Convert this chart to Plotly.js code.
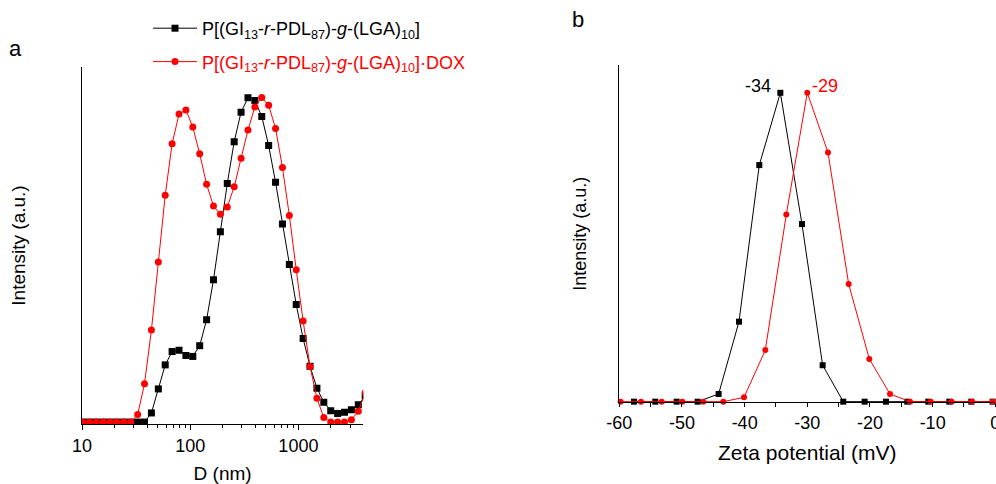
<!DOCTYPE html>
<html>
<head>
<meta charset="utf-8">
<script src="https://cdn.plot.ly/plotly-3.0.1.min.js"></script>
<style>html,body{margin:0;padding:0;background:#fff;}#chart{width:996px;height:484px;}</style>
</head>
<body>
<div id="chart"></div>
<script>
// ---- Panel a: DLS size distribution ----
const sizeNm = [10.1, 11.7, 13.54, 15.69, 18.17, 21.04, 24.36, 28.21, 32.67, 37.84, 43.82, 50.75, 58.77, 68.06, 78.82, 91.28, 105.7, 122.4, 141.8, 164.2, 190.1, 220.2, 255.0, 295.3, 342.0, 396.1, 458.7, 531.2, 615.1, 712.4, 825.0, 955.4, 1106, 1281, 1484, 1718, 1990, 2305, 2669, 3091, 3580, 4145];
const intensityPolymer = [0, 0, 0, 0, 0, 0, 0, 0, 0, 0, 2.8, 10.2, 17.6, 21.7, 22.1, 20.5, 20.2, 23.5, 31.5, 43.8, 58.6, 73.4, 86.3, 95.4, 99.8, 99.0, 94.1, 85.1, 73.8, 61.0, 48.5, 36.2, 25.7, 17.2, 10.4, 6.1, 3.5, 2.6, 3.0, 3.8, 5.3, 8.0];
const intensityDox = [0, 0, 0, 0, 0, 0, 0, 0, 2.3, 11.8, 28.3, 49.3, 69.8, 85.7, 94.8, 96.1, 90.8, 82.6, 73.2, 66.5, 64.0, 66.2, 72.4, 81.2, 89.9, 97.0, 99.9, 97.5, 90.4, 78.4, 63.6, 46.9, 31.1, 17.1, 7.3, 1.4, 0, 0, 0, 0.7, 3.3, 9.0];

// ---- Panel b: zeta potential distribution ----
const zetaPolymerMv = [-57.66, -54.26, -50.85, -47.5, -44.15, -40.9, -37.66, -34.3, -30.85, -27.55, -24.26, -20.85, -17.45, -14.04, -10.7, -7.34, -3.83, -0.43];
const zetaPolymerInt = [0, 0, 0, 0, 2.5, 25.9, 76.6, 100, 57.5, 11.8, 0, 0, 0, 0, 0, 0, 0, 0];
const zetaDoxMv = [-59.79, -56.54, -53.24, -49.95, -46.6, -43.4, -40.1, -36.7, -33.35, -30.0, -26.7, -23.4, -20.1, -16.8, -13.6, -10.3, -6.97, -3.72, -0.43];
const zetaDoxInt = [0, 0, 0, 0, 0, 0, 1.4, 16.7, 60.6, 100, 80.7, 38.1, 13.8, 2.5, 0, 0, 0, 0, 0];

// ---- Text ----
const legendNames = [
  "P[(GI<sub>13</sub>-<i>r</i>-PDL<sub>87</sub>)-<i>g</i>-(LGA)<sub>10</sub>]",
  "<span style='color:#ff0000'>P[(GI<sub>13</sub>-<i>r</i>-PDL<sub>87</sub>)-<i>g</i>-(LGA)<sub>10</sub>]·DOX</span>"
];
const sizeTickVals = [10, 100, 1000];
const sizeTickText = ["10", "100", "1000"];
const sizeMinorTicks = [20, 30, 40, 50, 60, 70, 80, 90, 200, 300, 400, 500, 600, 700, 800, 900, 2000, 3000];
const zetaTickVals = [-60, -50, -40, -30, -20, -10, 0];
const zetaTickText = ["-60", "-50", "-40", "-30", "-20", "-10", "0"];
const zetaPeakLabels = ["-34", "-29"];
const panelLabels = ["a", "b"];
const axisTitles = {size: "D (nm)", zeta: "Zeta potential (mV)", intensity: "Intensity (a.u.)"};

const W = 996, H = 484;
const fx = p => p / W;
const fy = p => 1 - p / H;
const BLACK = "#000000", RED = "#ff0000";
const FONT = "Liberation Sans, Arial, sans-serif";

function argmax(a) { let k = 0; for (let i = 1; i < a.length; i++) if (a[i] > a[k]) k = i; return k; }

const traces = [
  {x: sizeNm, y: intensityPolymer, type: "scatter", mode: "lines+markers", name: legendNames[0],
   legendgroup: "g1", xaxis: "x", yaxis: "y",
   line: {color: BLACK, width: 1}, marker: {symbol: "square", size: 7, color: BLACK}},
  {x: sizeNm, y: intensityDox, type: "scatter", mode: "lines+markers", name: legendNames[1],
   legendgroup: "g2", xaxis: "x", yaxis: "y",
   line: {color: RED, width: 1}, marker: {symbol: "circle", size: 7, color: RED}},
  {x: zetaPolymerMv, y: zetaPolymerInt, type: "scatter", mode: "lines+markers", showlegend: false,
   xaxis: "x2", yaxis: "y2", cliponaxis: false,
   line: {color: BLACK, width: 1}, marker: {symbol: "square", size: 6, color: BLACK}},
  {x: zetaDoxMv, y: zetaDoxInt, type: "scatter", mode: "lines+markers", showlegend: false,
   xaxis: "x2", yaxis: "y2", cliponaxis: false,
   line: {color: RED, width: 1}, marker: {symbol: "circle", size: 6, color: RED}}
];

const iB = argmax(zetaPolymerInt), iR = argmax(zetaDoxInt);

const commonAxis = {showline: true, linecolor: BLACK, linewidth: 1, showgrid: false, zeroline: false,
  tickcolor: BLACK, ticklabeloverflow: "allow", tickfont: {family: FONT, size: 18, color: BLACK}};

const layout = {
  width: W, height: H,
  margin: {l: 0, r: 0, t: 0, b: 0},
  paper_bgcolor: "#ffffff", plot_bgcolor: "#ffffff",
  font: {family: FONT, color: BLACK},
  showlegend: true,
  legend: {x: fx(148), y: fy(10), xanchor: "left", yanchor: "top", bgcolor: "rgba(0,0,0,0)",
    font: {family: FONT, size: 18, color: BLACK}, traceorder: "grouped", tracegroupgap: 7, itemwidth: 44},
  xaxis: Object.assign({}, commonAxis, {
    type: "log", domain: [fx(82), fx(363.3)], range: [1, 3.6], anchor: "y",
    ticks: "outside", ticklen: 5, tickmode: "array", tickvals: sizeTickVals, ticktext: sizeTickText,
    minor: {ticks: "outside", ticklen: 3, tickmode: "array", tickvals: sizeMinorTicks, tickcolor: BLACK, showgrid: false},
    title: {text: axisTitles.size, font: {family: FONT, size: 19, color: BLACK}, standoff: 15}
  }),
  yaxis: Object.assign({}, commonAxis, {
    domain: [fy(424), fy(67)], range: [-0.6, 109.3], anchor: "x",
    ticks: "", showticklabels: false,
    title: {text: axisTitles.intensity, font: {family: FONT, size: 19, color: BLACK}, standoff: 50}
  }),
  xaxis2: Object.assign({}, commonAxis, {
    domain: [fx(619.3), fx(995.3)], range: [-60, 0], anchor: "y2",
    ticks: "outside", ticklen: 4, tickmode: "array", tickvals: zetaTickVals, ticktext: zetaTickText,
    minor: {ticks: "outside", ticklen: 4, dtick: 5, tick0: 0, tickcolor: BLACK, showgrid: false},
    title: {text: axisTitles.zeta, font: {family: FONT, size: 21, color: BLACK}, standoff: 13}
  }),
  yaxis2: Object.assign({}, commonAxis, {
    domain: [fy(402.3), fy(65)], range: [-0.2, 109], anchor: "x2",
    ticks: "", showticklabels: false,
    title: {text: axisTitles.intensity, font: {family: FONT, size: 18, color: BLACK}, standoff: 26}
  }),
  annotations: [
    {xref: "paper", yref: "paper", x: fx(16), y: fy(48), text: panelLabels[0], showarrow: false,
     xanchor: "center", yanchor: "middle", font: {family: FONT, size: 22, color: BLACK}},
    {xref: "paper", yref: "paper", x: fx(578), y: fy(20), text: panelLabels[1], showarrow: false,
     xanchor: "center", yanchor: "middle", font: {family: FONT, size: 22, color: BLACK}},
    {xref: "x2", yref: "y2", x: zetaPolymerMv[iB], y: zetaPolymerInt[iB], text: zetaPeakLabels[0],
     showarrow: false, xanchor: "right", yanchor: "middle", xshift: -7, yshift: 7,
     font: {family: FONT, size: 18, color: BLACK}},
    {xref: "x2", yref: "y2", x: zetaDoxMv[iR], y: zetaDoxInt[iR], text: zetaPeakLabels[1],
     showarrow: false, xanchor: "left", yanchor: "middle", xshift: 3, yshift: 7,
     font: {family: FONT, size: 18, color: RED}}
  ]
};

Plotly.newPlot("chart", traces, layout, {displayModeBar: false, staticPlot: true});
</script>
</body>
</html>
